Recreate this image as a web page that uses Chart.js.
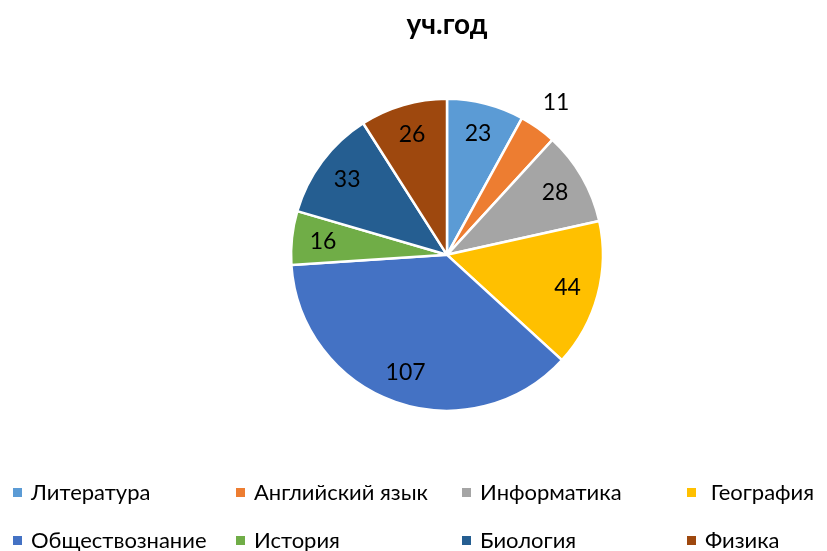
<!DOCTYPE html>
<html>
<head>
<meta charset="utf-8">
<script src="https://cdn.jsdelivr.net/npm/chart.js@4/dist/chart.umd.min.js"></script>
<style>
  html, body { margin: 0; padding: 0; background: #fff; }
  #wrap { position: relative; width: 827px; height: 551px; overflow: hidden; }
  #pieChart { position: absolute; left: 0; top: 0; }
  #legend { position: absolute; left: 0; top: 0; width: 827px; height: 551px; pointer-events: none;
            font-family: Lato, "Noto Sans", sans-serif; font-size: 22px; color: #000; }
  .leg-item { position: absolute; display: flex; align-items: center; white-space: pre; line-height: 1; }
  .leg-box { width: 9px; height: 9px; margin-right: 9px; flex: none; }
</style>
</head>
<body>
<div id="wrap">
  <canvas id="pieChart" width="827" height="551"></canvas>
  <div id="legend"></div>
</div>
<script>
const titleText = 'уч.год';
const categories = ['Литература', 'Английский язык', 'Информатика', ' География',
                    'Обществознание', 'История', 'Биология', 'Физика'];
const values = [23, 11, 28, 44, 107, 16, 33, 26];
const colors = ['#5B9BD5', '#ED7D31', '#A5A5A5', '#FFC000', '#4472C4', '#70AD47', '#255E91', '#9E480E'];

// value labels drawn on the slices (small slices get theirs outside)
const sliceLabels = {
    id: 'sliceLabels',
    afterDatasetsDraw(chart) {
        const ctx = chart.ctx;
        const meta = chart.getDatasetMeta(0);
        const total = values.reduce((a, b) => a + b, 0);
        ctx.save();
        ctx.font = '23px Lato, "Noto Sans", sans-serif';
        ctx.fillStyle = '#000';
        ctx.textAlign = 'center';
        ctx.textBaseline = 'middle';
        meta.data.forEach((arc, i) => {
            const p = arc.getProps(['x', 'y', 'startAngle', 'endAngle', 'outerRadius'], true);
            const mid = (p.startAngle + p.endAngle) / 2;
            const k = values[i] / total < 0.05 ? 1.2 : 0.8;
            const r = p.outerRadius * k;
            ctx.fillText(String(values[i]), p.x + Math.cos(mid) * r, p.y + Math.sin(mid) * r);
        });
        ctx.restore();
    }
};

new Chart(document.getElementById('pieChart'), {
    type: 'pie',
    data: {
        labels: categories,
        datasets: [{
            data: values,
            backgroundColor: colors,
            borderColor: '#ffffff',
            borderWidth: 2.5
        }]
    },
    options: {
        responsive: false,
        animation: false,
        layout: { padding: { left: 289, right: 222, top: 0, bottom: 139 } },
        plugins: {
            legend: { display: false },
            tooltip: { enabled: false },
            title: {
                display: true,
                text: titleText,
                color: '#000',
                font: { family: 'Lato, "Noto Sans", sans-serif', size: 28, weight: 'bold' },
                padding: { top: 8, bottom: 56 }
            }
        }
    },
    plugins: [sliceLabels]
});

// legend laid out in a 4-column grid like the original
const legend = document.getElementById('legend');
const colX = [13, 236, 462, 687];
const rowY = [492, 540];
categories.forEach((name, i) => {
    const item = document.createElement('div');
    item.className = 'leg-item';
    item.style.left = colX[i % 4] + 'px';
    item.style.top = (rowY[Math.floor(i / 4)] - 11) + 'px';
    item.innerHTML = `<span class="leg-box" style="background:${colors[i]}"></span><span>${name}</span>`;
    legend.appendChild(item);
});
</script>
</body>
</html>
